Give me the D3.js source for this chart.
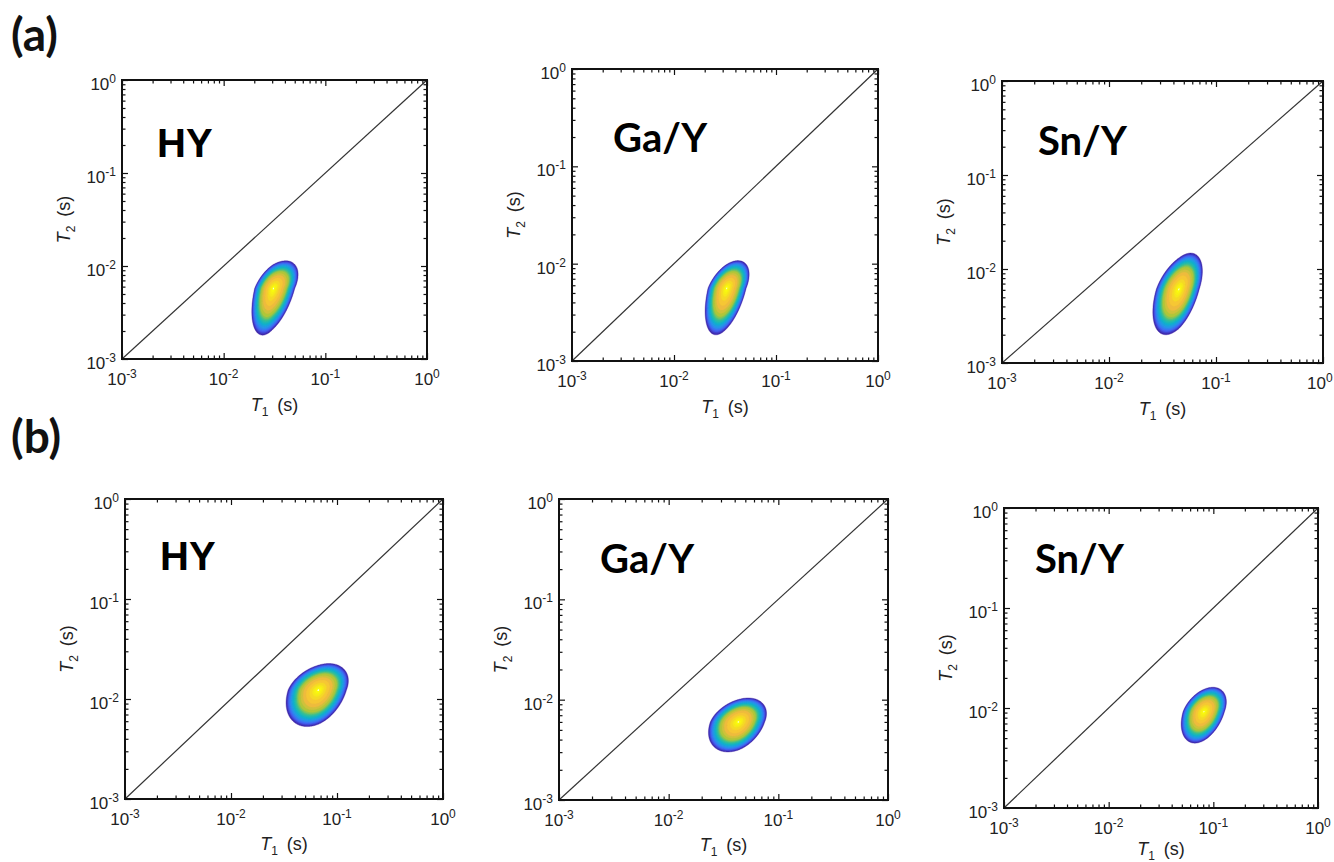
<!DOCTYPE html>
<html>
<head>
<meta charset="utf-8">
<script src="https://cdn.jsdelivr.net/npm/d3@7/dist/d3.min.js"></script>
<style>
  html, body { margin: 0; padding: 0; background: #fff; }
  svg { display: block; }
</style>
</head>
<body>
<script>
// ---------------- DATA ----------------
const groupLabels = ["(a)", "(b)"];
const panelNames = ["HY", "Ga/Y", "Sn/Y", "HY", "Ga/Y", "Sn/Y"];
// peak position of the T1-T2 distribution (s)
const peakT1 = [0.0308, 0.0329, 0.0450, 0.0667, 0.0432, 0.0813];
const peakT2 = [0.00575, 0.0056, 0.0061, 0.0123, 0.0060, 0.0092];
// spread of the distribution around the peak (decades, 1 sigma)
const spreadT1Left  = [0.080, 0.080, 0.092, 0.115, 0.103, 0.082];
const spreadT1Right = [0.092, 0.083, 0.083, 0.107, 0.097, 0.081];
const spreadT2Down  = [0.190, 0.181, 0.183, 0.138, 0.113, 0.119];
const spreadT2Up    = [0.112, 0.107, 0.145, 0.100, 0.090, 0.092];
const tilt          = [0.50, 0.50, 0.50, 0.35, 0.35, 0.40];
// contour levels (fraction of the peak amplitude), coloured by index
const contourLevels = [0.030, 0.037, 0.045, 0.054, 0.065, 0.078, 0.096, 0.115, 0.138, 0.164,
                       0.194, 0.227, 0.270, 0.359, 0.463, 0.615, 0.780, 0.891, 0.942, 0.978];
const peakLevel = 0.997;
// axes
const axisDomain = [1e-3, 1];
const majorTicks = [1e-3, 1e-2, 1e-1, 1];
const tickExponents = ["-3", "-2", "-1", "0"];
const minorMultipliers = [2, 3, 4, 5, 6, 7, 8, 9];
const diagonal = [1e-3, 1];
const xTitle = ["T", "1", "(s)"];
const yTitle = ["T", "2", "(s)"];
// parula colour map stops
const parula = ["#3e26a8", "#4660f5", "#2a91ec", "#0fb2cb", "#35c094",
                "#abc739", "#f6ba3e", "#f5e41d", "#f9fb0e"];

// ---------------- LAYOUT ----------------
const W = 1334, H = 862;
const boxes = [
  {l: 122, r: 427, t: 80,  b: 359},
  {l: 572, r: 878, t: 69,  b: 361},
  {l: 1002, r: 1323, t: 81, b: 363},
  {l: 125, r: 443, t: 499, b: 799},
  {l: 559, r: 888, t: 499, b: 800},
  {l: 1004, r: 1318, t: 508, b: 808}
];
const xTitleOffset = [52, 52, 52, 51, 51, 47];
const nameOffsets = [[35, 77], [41, 83], [36, 74], [35, 71], [41, 74], [31, 65]];
const nameFonts = [
  "'Liberation Sans', Arial, sans-serif",
  "Lato, sans-serif",
  "Lato, sans-serif",
  "'Liberation Sans', Arial, sans-serif",
  "Lato, sans-serif",
  "Lato, sans-serif"
];
const groupLabelPos = [[11, 51], [11, 453]];

const svg = d3.select("body").append("svg")
  .attr("width", W).attr("height", H)
  .attr("viewBox", `0 0 ${W} ${H}`);
svg.append("rect").attr("width", W).attr("height", H).attr("fill", "#fff");

const colorByIndex = d3.scaleSequential(d3.piecewise(d3.interpolateRgb, parula))
  .domain([0, contourLevels.length - 1]);

const minorTicks = [];
majorTicks.slice(0, -1).forEach(m => minorMultipliers.forEach(k => minorTicks.push(m * k)));

// group labels
svg.selectAll("text.group").data(groupLabels).join("text")
  .attr("class", "group")
  .attr("x", (d, i) => groupLabelPos[i][0])
  .attr("y", (d, i) => groupLabelPos[i][1])
  .attr("font-family", "Lato, sans-serif")
  .attr("font-weight", 700)
  .attr("font-size", 46)
  .attr("fill", "#111")
  .text(d => d);

const tickFont = "'Liberation Sans', Arial, Helvetica, sans-serif";

panelNames.forEach((name, i) => {
  const bx = boxes[i];
  const w = bx.r - bx.l, h = bx.b - bx.t;
  const g = svg.append("g").attr("transform", `translate(${bx.l},${bx.t})`);
  const xs = d3.scaleLog().domain(axisDomain).range([0, w]);
  const ys = d3.scaleLog().domain(axisDomain).range([h, 0]);

  // ----- density grid in log space -----
  const lx0 = Math.log10(peakT1[i]), ly0 = Math.log10(peakT2[i]);
  const half = 0.8, n = 260, step = 2 * half / n;
  const gx0 = lx0 - half, gy0 = ly0 - half;
  const rho = tilt[i];
  const vals = new Float64Array(n * n);
  for (let r = 0; r < n; r++) {
    const dy = gy0 + (r + 0.5) * step - ly0;
    const v = dy / (dy < 0 ? spreadT2Down[i] : spreadT2Up[i]);
    for (let c = 0; c < n; c++) {
      const dx = gx0 + (c + 0.5) * step - lx0;
      const u = dx / (dx < 0 ? spreadT1Left[i] : spreadT1Right[i]);
      const q = (u * u - 2 * rho * u * v + v * v) / (1 - rho * rho);
      vals[r * n + c] = Math.exp(-q / 2);
    }
  }
  const thresholds = contourLevels.concat([peakLevel]);
  const contours = d3.contours().size([n, n]).thresholds(thresholds)(vals);
  const proj = d3.geoTransform({
    point: function (px, py) {
      const lx = gx0 + px * step, ly = gy0 + py * step;
      this.stream.point(xs(Math.pow(10, lx)), ys(Math.pow(10, ly)));
    }
  });
  const path = d3.geoPath(proj);
  const isPeak = k => k >= contourLevels.length;
  g.append("g").selectAll("path").data(contours).join("path")
    .attr("d", path)
    .attr("fill", (d, k) => isPeak(k) ? "#ffffff" : colorByIndex(k))
    .attr("stroke", (d, k) => isPeak(k) ? "none" : colorByIndex(k))
    .attr("stroke-width", 0.4);

  // ----- diagonal T1 = T2 -----
  g.append("path")
    .datum(diagonal)
    .attr("d", d3.line().x(d => xs(d)).y(d => ys(d)))
    .attr("stroke", "#333").attr("stroke-width", 1.2).attr("fill", "none");

  // ----- ticks (inward, mirrored) -----
  const tickStyle = sel => {
    sel.select(".domain").remove();
    sel.selectAll("line").attr("stroke", "#111").attr("stroke-width", 1.2);
    sel.selectAll("text").remove();
  };
  const axes = [
    [d3.axisBottom(xs), `translate(0,${h})`],
    [d3.axisTop(xs), `translate(0,0)`],
    [d3.axisLeft(ys), `translate(0,0)`],
    [d3.axisRight(ys), `translate(${w},0)`]
  ];
  axes.forEach(([ax, tr]) => {
    g.append("g").attr("transform", tr)
      .call(ax.tickValues(majorTicks).tickSize(-6).tickFormat(""))
      .call(tickStyle);
    g.append("g").attr("transform", tr)
      .call(ax.tickValues(minorTicks).tickSize(-3.5).tickFormat(""))
      .call(tickStyle);
  });

  // ----- frame -----
  g.append("rect").attr("width", w).attr("height", h)
    .attr("fill", "none").attr("stroke", "#111").attr("stroke-width", 2);

  // ----- tick labels -----
  const xl = g.append("g").selectAll("text").data(majorTicks).join("text")
    .attr("x", d => xs(d)).attr("y", h + 26)
    .attr("text-anchor", "middle")
    .attr("font-family", tickFont).attr("font-size", 17).attr("fill", "#222");
  xl.append("tspan").text("10");
  xl.append("tspan").attr("dy", -7).attr("font-size", 12).text((d, k) => tickExponents[k]);
  // keep labels inside the picture
  xl.each(function () {
    const b = this.getBBox();
    const right = bx.l + b.x + b.width;
    if (right > W - 1) d3.select(this).attr("dx", (W - 1) - right);
  });

  const yl = g.append("g").selectAll("text").data(majorTicks).join("text")
    .attr("x", -6).attr("y", d => ys(d) + 10)
    .attr("text-anchor", "end")
    .attr("font-family", tickFont).attr("font-size", 17).attr("fill", "#222");
  yl.append("tspan").text("10");
  yl.append("tspan").attr("dy", -7).attr("font-size", 12).text((d, k) => tickExponents[k]);

  // ----- axis titles -----
  const xt = g.append("text").attr("x", w / 2).attr("y", h + xTitleOffset[i])
    .attr("text-anchor", "middle")
    .attr("font-family", tickFont).attr("font-size", 18).attr("fill", "#222");
  xt.append("tspan").attr("font-style", "italic").text(xTitle[0]);
  xt.append("tspan").attr("dy", 5).attr("font-size", 12).text(xTitle[1]);
  xt.append("tspan").attr("dy", -5).attr("dx", 9).text(xTitle[2]);

  const yt = g.append("text")
    .attr("transform", `translate(-52,${h / 2}) rotate(-90)`)
    .attr("text-anchor", "middle")
    .attr("font-family", tickFont).attr("font-size", 18).attr("fill", "#222");
  yt.append("tspan").attr("font-style", "italic").text(yTitle[0]);
  yt.append("tspan").attr("dy", 5).attr("font-size", 12).text(yTitle[1]);
  yt.append("tspan").attr("dy", -5).attr("dx", 9).text(yTitle[2]);

  // ----- sample name -----
  g.append("text")
    .attr("x", nameOffsets[i][0]).attr("y", nameOffsets[i][1])
    .attr("font-family", nameFonts[i])
    .attr("font-weight", 700)
    .attr("font-size", 40)
    .attr("fill", "#000")
    .text(name);
});
</script>
</body>
</html>
